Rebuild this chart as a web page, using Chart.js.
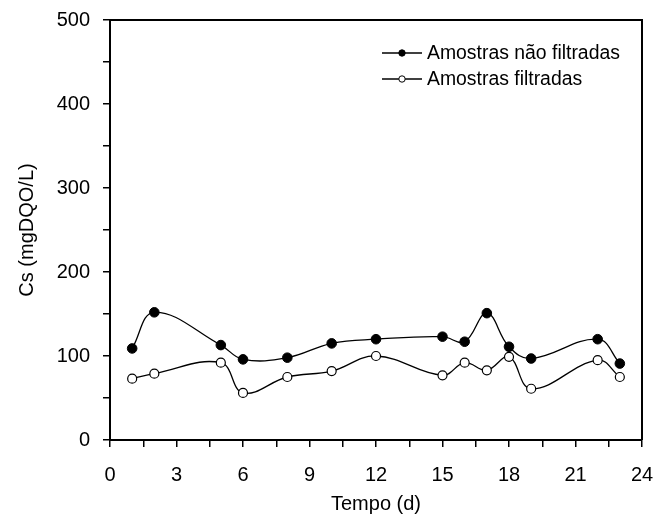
<!DOCTYPE html>
<html>
<head>
<meta charset="utf-8">
<script src="https://cdn.jsdelivr.net/npm/chart.js@4/dist/chart.umd.min.js"></script>
<style>
  html, body { margin: 0; padding: 0; background: #fff; }
  #wrap { width: 660px; height: 518px; }
</style>
</head>
<body>
<div id="wrap"><canvas id="c" width="660" height="518"></canvas></div>
<script>
// Sampling days
const days = [1, 2, 5, 6, 8, 10, 12, 15, 16, 17, 18, 19, 22, 23];
// Soluble COD, unfiltered samples (mgDQO/L)
const naoFiltradas = [109, 152, 113, 96, 98, 115, 120, 123, 117, 151, 111, 97, 120, 91];
// Soluble COD, filtered samples (mgDQO/L)
const filtradas = [73, 79, 92, 56, 75, 82, 100, 77, 92, 83, 99, 61, 95, 75];

const seriesLabels = ['Amostras não filtradas', 'Amostras filtradas'];
const xTitle = 'Tempo (d)';
const yTitle = 'Cs (mgDQO/L)';

const FONT = '"Liberation Sans", Arial, Helvetica, sans-serif';

const toPoints = (xs, ys) => xs.map((x, i) => ({ x: x, y: ys[i] }));

// Closes the plot box on top and right, and draws the inset legend
const framePlugin = {
  id: 'frameAndLegend',
  afterDraw(chart) {
    const { ctx, chartArea: a } = chart;
    ctx.save();
    ctx.strokeStyle = '#000';
    ctx.lineWidth = 2;
    ctx.beginPath();
    ctx.moveTo(a.left, a.top);
    ctx.lineTo(a.right, a.top);
    ctx.lineTo(a.right, a.bottom);
    ctx.stroke();

    // legend entries
    ctx.font = '19.4px ' + FONT;
    ctx.textBaseline = 'middle';
    ctx.fillStyle = '#000';
    const rows = [a.top + 33, a.top + 59];
    chart.data.datasets.forEach((ds, i) => {
      const y = rows[i];
      const x0 = a.left + 272, x1 = a.left + 312, xm = (x0 + x1) / 2;
      ctx.lineWidth = 1.3;
      ctx.strokeStyle = '#000';
      ctx.beginPath();
      ctx.moveTo(x0, y);
      ctx.lineTo(x1, y);
      ctx.stroke();
      ctx.beginPath();
      ctx.arc(xm, y, 3.2, 0, Math.PI * 2);
      ctx.fillStyle = ds.pointBackgroundColor;
      ctx.fill();
      ctx.lineWidth = 1;
      ctx.stroke();
      ctx.fillStyle = '#000';
      ctx.fillText(ds.label, x1 + 5, y + 1);
    });
    ctx.restore();
  }
};

new Chart(document.getElementById('c'), {
  type: 'line',
  data: {
    datasets: [
      {
        label: seriesLabels[0],
        data: toPoints(days, naoFiltradas),
        borderColor: '#000',
        borderWidth: 1.3,
        pointBackgroundColor: '#000',
        pointBorderColor: '#000',
        pointBorderWidth: 1,
        pointRadius: 4.8,
        tension: 0.4,
        fill: false
      },
      {
        label: seriesLabels[1],
        data: toPoints(days, filtradas),
        borderColor: '#000',
        borderWidth: 1.3,
        pointBackgroundColor: '#fff',
        pointBorderColor: '#000',
        pointBorderWidth: 1.2,
        pointRadius: 4.5,
        tension: 0.4,
        fill: false
      }
    ]
  },
  options: {
    responsive: false,
    animation: false,
    events: [],
    layout: { padding: { top: 20, right: 18, left: 0, bottom: 0 } },
    plugins: {
      legend: { display: false },
      tooltip: { enabled: false }
    },
    scales: {
      x: {
        type: 'linear',
        min: 0,
        max: 24,
        afterFit(scale) {
          scale.height = 78;
          scale.paddingLeft = 0;
          scale.paddingRight = 0;
        },
        ticks: {
          stepSize: 1.5,
          autoSkip: false,
          maxRotation: 0,
          padding: 16,
          color: '#000',
          font: { family: FONT, size: 20 },
          callback: v => (v % 3 === 0 ? String(v) : '')
        },
        grid: {
          display: true,
          drawOnChartArea: false,
          drawTicks: true,
          tickLength: 7,
          color: '#000',
          lineWidth: 1.5
        },
        border: { display: true, color: '#000', width: 2 },
        title: {
          display: true,
          text: xTitle,
          color: '#000',
          font: { family: FONT, size: 20 },
          padding: { top: 0, bottom: 2 }
        }
      },
      y: {
        type: 'linear',
        min: 0,
        max: 500,
        afterFit(scale) {
          scale.width = 110;
          scale.paddingTop = 0;
          scale.paddingBottom = 0;
        },
        ticks: {
          stepSize: 50,
          autoSkip: false,
          padding: 13,
          color: '#000',
          font: { family: FONT, size: 20 },
          callback: v => (v % 100 === 0 ? String(v) : '')
        },
        grid: {
          display: true,
          drawOnChartArea: false,
          drawTicks: true,
          tickLength: 7,
          color: '#000',
          lineWidth: 1.5
        },
        border: { display: true, color: '#000', width: 2 },
        title: {
          display: true,
          text: yTitle,
          color: '#000',
          font: { family: FONT, size: 20 },
          padding: { top: 15, bottom: 0 }
        }
      }
    }
  },
  plugins: [framePlugin]
});
</script>
</body>
</html>
